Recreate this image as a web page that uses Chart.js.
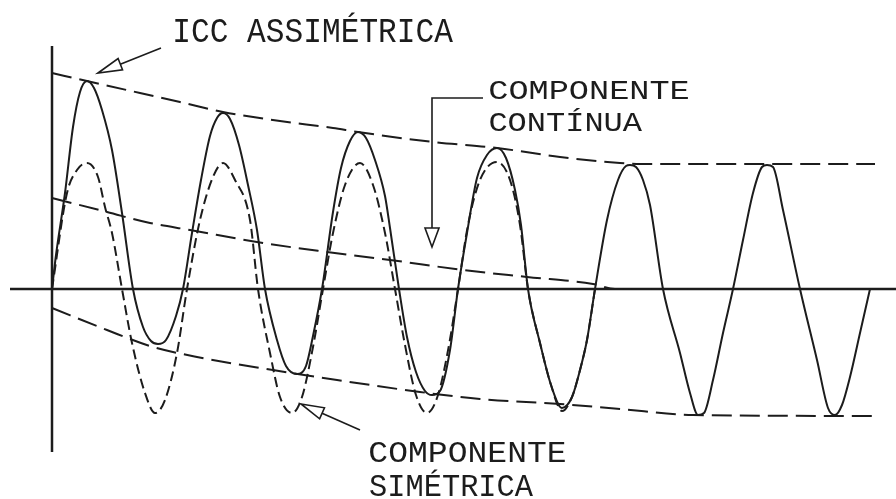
<!DOCTYPE html>
<html>
<head>
<meta charset="utf-8">
<script src="https://cdn.jsdelivr.net/npm/chart.js@4.4.1/dist/chart.umd.min.js"></script>
<style>
  body { margin: 0; background: #fff; }
  #box { width: 896px; height: 499px; }
</style>
</head>
<body>
<div id="box"><canvas id="grafico"></canvas></div>
<script>
// corrente assimétrica (traço contínuo) - t, i
const iccT = [0, 4, 13, 21, 28, 35, 42, 50, 60, 70, 81, 91, 99, 106, 114, 124, 131, 140, 149, 158, 165, 171, 178, 187, 196, 205, 213, 225, 234, 245, 254, 261, 270, 281, 289, 298, 306, 314, 323, 333, 338, 347, 355, 364, 373, 380, 388, 398, 406, 415, 425, 435, 445, 454, 463, 469, 476, 488, 499, 510, 520, 528, 535, 543, 555, 566, 574, 578, 584, 591, 598, 611, 628, 638, 646, 652, 661, 671, 681, 691, 701, 710, 715, 721, 731, 748, 765, 776, 783, 790, 798, 808, 818];
const iccI = [0, 34, 96, 162, 197, 208, 201, 179, 139, 76, 0, -38, -52, -55, -51, -27, 0, 56, 109, 153, 171, 176, 170, 144, 104, 59, 0, -51, -77, -85, -77, -47, 0, 77, 121, 148, 157, 151, 129, 93, 61, 0, -48, -83, -102, -106, -102, -61, 0, 56, 111, 134, 141, 131, 99, 64, 0, -54, -96, -119, -108, -81, -51, 0, 69, 109, 123, 124, 122, 109, 84, 0, -64, -104, -126, -124, -91, -44, 0, 49, 96, 122, 124, 122, 79, 0, -71, -119, -126, -116, -88, -44, 0];

// componente simétrica (tracejado curto)
const simT = [0, 15, 25, 35, 46, 53, 60, 70, 80, 93, 103, 113, 125, 135, 148, 161, 171, 183, 198, 206, 218, 228, 240, 250, 261, 271, 281, 293, 308, 321, 333, 343, 353, 364, 375, 386, 397, 406, 416, 428, 445, 458, 468, 476, 488, 499, 510, 520, 528, 535, 543];
const simI = [0, 96, 119, 126, 112, 82, 56, 0, -54, -104, -124, -111, -64, 0, 69, 112, 126, 109, 69, 0, -64, -108, -124, -108, -58, 0, 56, 104, 126, 104, 56, 0, -56, -106, -124, -106, -56, 0, 64, 109, 127, 109, 64, 0, -54, -96, -122, -108, -81, -51, 0];

// componente contínua
const dcT = [0, 55, 98, 138, 211, 275, 338, 411, 475, 541, 563, 823];
const dcI = [91, 77, 66, 59, 46, 37, 29, 19, 12, 5, 0, 0];

// envoltórias
const envSupT = [0, 35, 88, 128, 171, 228, 281, 306, 381, 445, 508, 568, 588, 823];
const envSupI = [216, 208, 196, 187, 177, 168, 161, 157, 147, 141, 132, 126, 125, 125];
const envInfT = [0, 55, 98, 145, 221, 285, 368, 428, 508, 568, 641, 823];
const envInfI = [-19, -41, -57, -68, -81, -91, -103, -110, -115, -120, -126, -127];

const pts = (ts, is) => ts.map((t, k) => ({ x: t, y: is[k] }));
const cor = '#1c1c1c';

// eixos e anotações (em unidades t / i)
const eixoX = [-42, 844];
const eixoY = [243, -163];
const textos = [
  { txt: 'ICC ASSIMÉTRICA', t: 123, i: 247, w: 278, h: 24 },
  { txt: 'COMPONENTE', t: 438, i: 190, w: 198, h: 19 },
  { txt: 'CONTÍNUA', t: 438, i: 158, w: 152, h: 18 },
  { txt: 'COMPONENTE', t: 318, i: -173, w: 195, h: 20 },
  { txt: 'SIMÉTRICA', t: 318, i: -207, w: 163, h: 21 }
];
const setas = [
  { de: [[109, 241]], ponta: [46, 216], L: 24, W: 6 },
  { de: [[431, 191], [380, 191]], ponta: [380, 42], L: 19, W: 7 },
  { de: [[308, -141]], ponta: [249, -115], L: 23, W: 6 }
];

const desenho = {
  id: 'desenho',
  beforeDatasetsDraw(chart) {
    const { ctx, scales: { x, y } } = chart;
    ctx.save();
    ctx.strokeStyle = cor;
    ctx.lineWidth = 2.5;
    ctx.beginPath();
    ctx.moveTo(x.getPixelForValue(eixoX[0]), y.getPixelForValue(0));
    ctx.lineTo(x.getPixelForValue(eixoX[1]), y.getPixelForValue(0));
    ctx.moveTo(x.getPixelForValue(0), y.getPixelForValue(eixoY[0]));
    ctx.lineTo(x.getPixelForValue(0), y.getPixelForValue(eixoY[1]));
    ctx.stroke();
    ctx.restore();
  },
  afterDraw(chart) {
    const { ctx, scales: { x, y } } = chart;
    ctx.save();
    ctx.fillStyle = cor;
    ctx.strokeStyle = cor;
    ctx.lineWidth = 1.6;

    textos.forEach(o => {
      ctx.save();
      ctx.font = '100px "Liberation Mono"';
      const cap = ctx.measureText('H').actualBoundingBoxAscent;
      const m = ctx.measureText(o.txt);
      const larg = m.actualBoundingBoxLeft + m.actualBoundingBoxRight;
      ctx.translate(x.getPixelForValue(o.t), y.getPixelForValue(o.i));
      ctx.scale(o.w / larg, o.h / cap);
      ctx.fillText(o.txt, m.actualBoundingBoxLeft, 0);
      ctx.restore();
    });

    setas.forEach(s => {
      const px = p => [x.getPixelForValue(p[0]), y.getPixelForValue(p[1])];
      const tip = px(s.ponta);
      const ult = px(s.de[s.de.length - 1]);
      let dx = tip[0] - ult[0], dy = tip[1] - ult[1];
      const n = Math.hypot(dx, dy);
      dx /= n; dy /= n;
      const bx = tip[0] - dx * s.L, by = tip[1] - dy * s.L;
      ctx.beginPath();
      s.de.forEach((p, k) => {
        const q = px(p);
        if (k === 0) ctx.moveTo(q[0], q[1]); else ctx.lineTo(q[0], q[1]);
      });
      ctx.lineTo(bx, by);
      ctx.stroke();
      ctx.beginPath();
      ctx.moveTo(tip[0], tip[1]);
      ctx.lineTo(bx - dy * s.W, by + dx * s.W);
      ctx.lineTo(bx + dy * s.W, by - dx * s.W);
      ctx.closePath();
      ctx.stroke();
    });
    ctx.restore();
  }
};

const base = { borderColor: cor, borderWidth: 2, pointRadius: 0, fill: false, cubicInterpolationMode: 'monotone' };

new Chart(document.getElementById('grafico'), {
  type: 'line',
  data: {
    datasets: [
      { ...base, label: 'ICC assimétrica', data: pts(iccT, iccI) },
      { ...base, label: 'Componente simétrica', data: pts(simT, simI), borderDash: [10, 5] },
      { ...base, label: 'Componente contínua', data: pts(dcT, dcI), borderDash: [20, 8] },
      { ...base, label: 'Envoltória superior', data: pts(envSupT, envSupI), borderDash: [20, 8] },
      { ...base, label: 'Envoltória inferior', data: pts(envInfT, envInfI), borderDash: [20, 8] }
    ]
  },
  options: {
    responsive: true,
    maintainAspectRatio: false,
    animation: false,
    layout: { padding: 0 },
    plugins: { legend: { display: false }, tooltip: { enabled: false } },
    scales: {
      x: { type: 'linear', min: -52, max: 844, display: false },
      y: { type: 'linear', min: -210, max: 289, display: false }
    }
  },
  plugins: [desenho]
});
</script>
</body>
</html>
